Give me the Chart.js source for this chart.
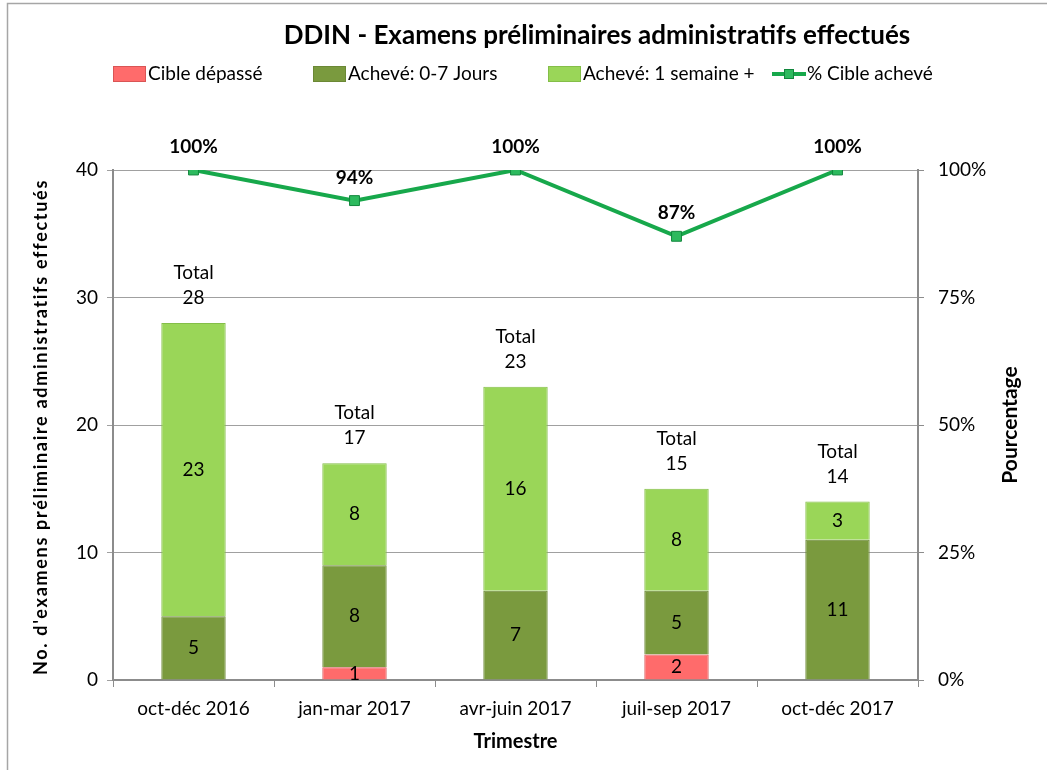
<!DOCTYPE html>
<html>
<head>
<meta charset="utf-8">
<script src="https://cdn.jsdelivr.net/npm/chart.js@4.4.1/dist/chart.umd.min.js"></script>
<style>
  body { margin: 0; background: #fff; }
  #wrap { position: absolute; left: 0; top: 0; width: 1047px; height: 770px; }
</style>
</head>
<body>
<div id="wrap"><canvas id="chartExamens" width="1047" height="770"></canvas></div>
<script>
const trimestres = ['oct-déc 2016', 'jan-mar 2017', 'avr-juin 2017', 'juil-sep 2017', 'oct-déc 2017'];
const cibleDepasse = [0, 1, 0, 2, 0];
const acheve07 = [5, 8, 7, 5, 11];
const acheveSemaine = [23, 8, 16, 8, 3];
const pctCible = [100, 94, 100, 87, 100];
const totaux = [28, 17, 23, 15, 14];

const FONT = 'Lato, "Open Sans", sans-serif';

// etiquettes, legende, titres et cadre dessines a la main
const decor = {
  id: 'decor',
  afterDatasetsDraw(chart) {
    const ctx = chart.ctx;
    ctx.save();
    ctx.fillStyle = '#000';
    ctx.textAlign = 'center';
    ctx.textBaseline = 'middle';
    ctx.font = '19px ' + FONT;
    [0, 1, 2].forEach(di => {
      chart.getDatasetMeta(di).data.forEach((bar, i) => {
        const v = chart.data.datasets[di].data[i];
        if (!v) return;
        ctx.fillText(v, bar.x, (bar.y + bar.base) / 2);
      });
    });
    chart.getDatasetMeta(2).data.forEach((bar, i) => {
      ctx.fillText('Total', bar.x, bar.y - 50);
      ctx.fillText(totaux[i], bar.x, bar.y - 25);
    });
    ctx.font = 'bold 19px ' + FONT;
    chart.getDatasetMeta(3).data.forEach((pt, i) => {
      ctx.fillText(pctCible[i] + '%', pt.x, pt.y - 23);
    });
    ctx.restore();
  },
  afterDraw(chart) {
    const ctx = chart.ctx;
    const area = chart.chartArea;
    ctx.save();
    // cadre
    ctx.strokeStyle = '#A6A6A6';
    ctx.lineWidth = 1.5;
    ctx.beginPath();
    ctx.moveTo(7.5, 770); ctx.lineTo(7.5, 3.5); ctx.lineTo(1047, 3.5);
    ctx.stroke();
    // titre
    ctx.fillStyle = '#000';
    ctx.textAlign = 'center';
    ctx.textBaseline = 'middle';
    ctx.font = 'bold 26px ' + FONT;
    ctx.fillText('DDIN - Examens préliminaires administratifs effectués', 597, 36);
    // titres axes verticaux
    ctx.save();
    ctx.translate(1010, (area.top + area.bottom) / 2);
    ctx.rotate(-Math.PI / 2);
    ctx.font = 'bold 21px ' + FONT;
    ctx.fillText('Pourcentage', 0, 0);
    ctx.restore();
    ctx.save();
    ctx.translate(41, 427);
    ctx.rotate(-Math.PI / 2);
    ctx.font = 'bold 18px ' + FONT;
    ctx.letterSpacing = '1.7px';
    ctx.fillText("No. d'examens préliminaire administratifs effectués", 0, 0);
    ctx.restore();
    // legende
    const xs = [113, 313, 548, 772];
    const ly = 74;
    ctx.textAlign = 'left';
    ctx.font = '19px ' + FONT;
    chart.data.datasets.forEach((ds, i) => {
      const x = xs[i];
      if (ds.type === 'line') {
        ctx.strokeStyle = ds.borderColor;
        ctx.lineWidth = 4;
        ctx.beginPath(); ctx.moveTo(x, ly); ctx.lineTo(x + 34, ly); ctx.stroke();
        ctx.fillStyle = ds.pointBackgroundColor;
        ctx.fillRect(x + 12, ly - 5, 10, 10);
        ctx.strokeStyle = ds.pointBorderColor;
        ctx.lineWidth = 1;
        ctx.strokeRect(x + 12.5, ly - 4.5, 9, 9);
      } else {
        ctx.fillStyle = ds.backgroundColor;
        ctx.fillRect(x, ly - 8, 33, 16);
        ctx.strokeStyle = ds.borderColor;
        ctx.lineWidth = 1;
        ctx.strokeRect(x + 0.5, ly - 7.5, 32, 15);
      }
      ctx.fillStyle = '#000';
      ctx.fillText(ds.label, x + 35, ly);
    });
    ctx.restore();
  }
};

const ctx = document.getElementById('chartExamens');

new Chart(ctx, {
  type: 'bar',
  data: {
    labels: trimestres,
    datasets: [
      {
        label: 'Cible dépassé',
        data: cibleDepasse,
        backgroundColor: '#FF6B6B',
        borderColor: '#D95555',
        borderWidth: 1,
        yAxisID: 'y',
        order: 1
      },
      {
        label: 'Achevé: 0-7 Jours',
        data: acheve07,
        backgroundColor: '#7A9A3E',
        borderColor: '#6B8835',
        borderWidth: 1,
        yAxisID: 'y',
        order: 1
      },
      {
        label: 'Achevé: 1 semaine +',
        data: acheveSemaine,
        backgroundColor: '#9AD658',
        borderColor: '#84BE48',
        borderWidth: 1,
        yAxisID: 'y',
        order: 1
      },
      {
        type: 'line',
        label: '% Cible achevé',
        data: pctCible,
        borderColor: '#17A84B',
        borderWidth: 4,
        pointStyle: 'rect',
        pointRadius: 7,
        pointBackgroundColor: '#2DBA5E',
        pointBorderColor: '#12873D',
        pointBorderWidth: 1,
        tension: 0,
        yAxisID: 'y1',
        order: 0
      }
    ]
  },
  options: {
    responsive: false,
    animation: false,
    layout: { padding: { top: 170, left: 0, right: 0, bottom: 0 } },
    plugins: {
      legend: { display: false },
      title: { display: false },
      tooltip: { enabled: false }
    },
    datasets: {
      bar: { categoryPercentage: 0.8, barPercentage: 0.5 }
    },
    scales: {
      x: {
        stacked: true,
        afterFit: s => { s.height = 90; },
        grid: { offset: true, drawOnChartArea: false, tickLength: 7, color: '#8C8C8C' },
        border: { color: '#8C8C8C', width: 2 },
        ticks: { color: '#000', font: { size: 19, family: FONT }, padding: 10 },
        title: {
          display: true,
          text: 'Trimestre',
          color: '#000',
          font: { size: 20, weight: 'bold', family: FONT },
          padding: { top: 4, bottom: 16 }
        }
      },
      y: {
        stacked: true,
        min: 0,
        max: 40,
        afterFit: s => { s.width = 113; },
        ticks: { stepSize: 10, color: '#000', font: { size: 19, family: FONT }, padding: 9 },
        grid: { color: '#A0A0A0', tickLength: 6 },
        border: { color: '#8C8C8C', width: 2 }
      },
      y1: {
        position: 'right',
        min: 0,
        max: 100,
        afterFit: s => { s.width = 129; },
        ticks: {
          stepSize: 25,
          color: '#000',
          font: { size: 19, family: FONT },
          padding: 14,
          callback: v => v + '%'
        },
        grid: { drawOnChartArea: false, tickLength: 6, color: '#8C8C8C' },
        border: { color: '#8C8C8C', width: 2 }
      }
    }
  },
  plugins: [decor]
});
</script>
</body>
</html>
